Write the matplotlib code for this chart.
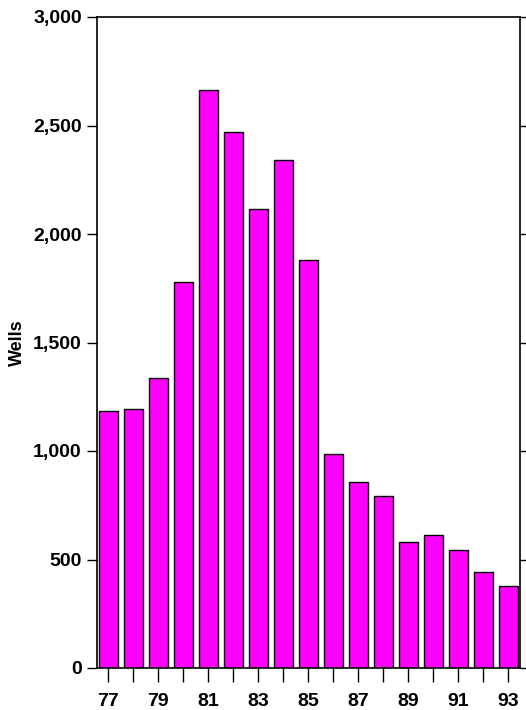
import matplotlib
matplotlib.use("Agg")
import matplotlib.pyplot as plt
from matplotlib.ticker import FuncFormatter, MultipleLocator

years = list(range(77, 94))
wells = [1184, 1194, 1336, 1779, 2664, 2470, 2115, 2341, 1880, 986, 857, 793, 581, 613, 544, 442, 378]
tick_labels = {y: str(y) for y in years if y % 2 == 1}

plt.rcParams['font.family'] = ['Liberation Sans', 'DejaVu Sans']
plt.rcParams['font.weight'] = 'bold'

fig = plt.figure(figsize=(5.26, 7.10), dpi=100)
ax = fig.add_axes([97/526, 1 - 668/710, (520-97)/526, (668-17)/710])

ax.bar(years, wells, width=0.76, color='#ff00ff', edgecolor='black', linewidth=1.0)

ax.set_xlim(76.56, 93.48)
ax.set_ylim(0, 3000)
ax.yaxis.set_major_locator(MultipleLocator(500))
ax.yaxis.set_major_formatter(FuncFormatter(lambda v, p: f"{int(v):,}"))
ax.set_xticks(years)
ax.set_xticklabels([tick_labels.get(y, '') for y in years])

ax.tick_params(axis='y', which='both', direction='out', length=7, width=1, labelsize=14, pad=4, right=True)
ax.tick_params(axis='x', direction='out', length=10, width=1, labelsize=14, pad=8)
for lbl in ax.get_xticklabels() + ax.get_yticklabels():
    lbl.set_fontweight('bold')
for s in ax.spines.values():
    s.set_linewidth(1.2)

ax.set_ylabel('Wells', fontsize=13, fontweight='bold', labelpad=5)

fig.savefig('out.png', dpi=100)
